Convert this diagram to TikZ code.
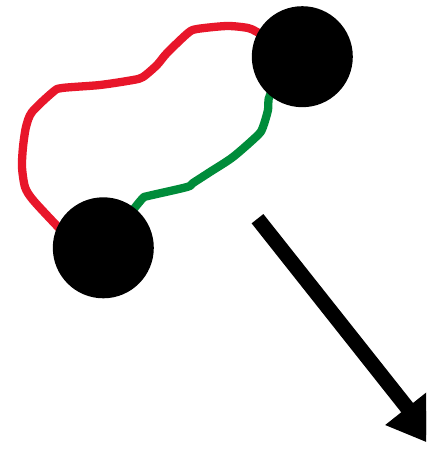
\documentclass[tikz,border=0pt]{standalone}
\usetikzlibrary{arrows.meta}
\definecolor{linkred}{RGB}{232,22,42}
\definecolor{linkgreen}{RGB}{0,140,58}
\tikzset{
  blob/.style={circle, fill=black, inner sep=0pt, minimum size=101pt},
  wire/.style={line width=8.3pt, line join=round, line cap=round},
  bigarrow/.style={line width=15pt, -{Triangle[length=51pt,width=52pt]}}
}
\begin{document}
\begin{tikzpicture}[x=1pt,y=-1pt]
\useasboundingbox (0,0) rectangle (426,449);
\clip (0,0) rectangle (426,449);
\fill[white] (0,0) rectangle (426,449);
% wires (behind the blobs)
\draw[wire, linkred] plot[smooth, tension=0.45] coordinates {
  (80,250) (58,227) (33,200) (25,187) (22,167) (23,147) (26,127) (32,112)
  (53,92) (62,88) (100,85) (133,80) (143,77) (157,65) (167,53) (188,33)
  (197,29) (227,26) (248,28) (257,32) (280,45)};
\draw[wire, linkgreen] plot[smooth, tension=0.45] coordinates {
  (110,240) (133,210) (143,198) (148,196) (187,187) (193,183) (210,172)
  (233,157) (258,135) (263,127) (268,110) (270,95) (290,70)};
% blobs
\node[blob] (top) at (302.3,56.7) {};
\node[blob] (bottom) at (103.3,247.8) {};
% arrow
\coordinate (astart) at (257.5,218.7);
\coordinate (aend) at (438.8,447.6);
\draw[bigarrow] (astart) -- (aend);
\end{tikzpicture}
\end{document}
